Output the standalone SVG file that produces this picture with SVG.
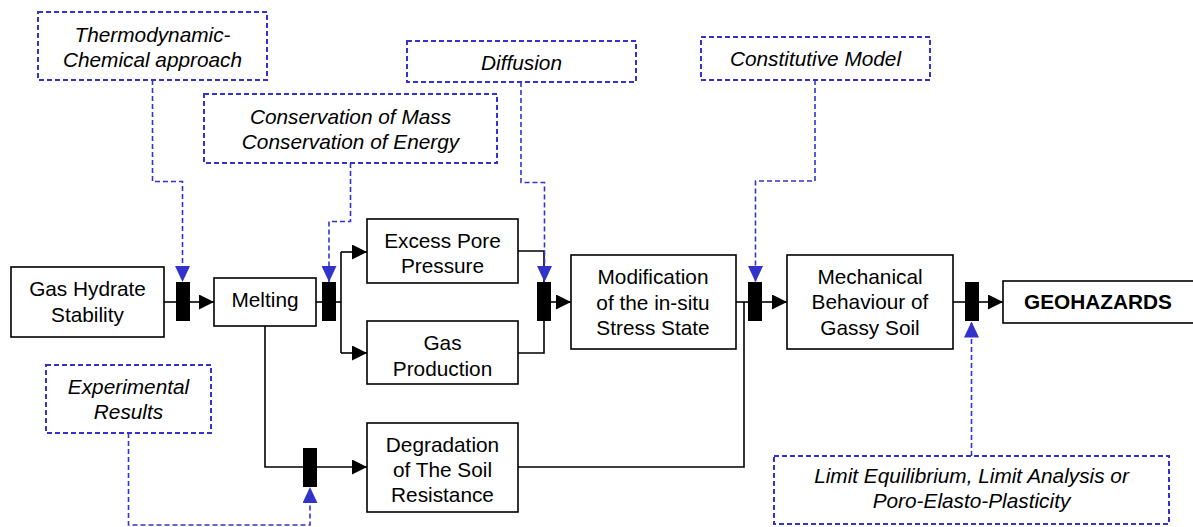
<svg xmlns="http://www.w3.org/2000/svg" width="1193" height="527" viewBox="0 0 1193 527">
<style>
  .box { fill: #fff; stroke: #000; stroke-width: 1.6; }
  .bar { fill: #000; stroke: none; }
  .note { fill: #fff; stroke: #3333cc; stroke-width: 2; stroke-dasharray: 5 3; }
  .t { font-family: "Liberation Sans", Arial, sans-serif; font-size: 20.8px; fill: #000; text-anchor: middle; }
  .ti { font-style: italic; }
  .tb { font-weight: bold; text-anchor: start; }
  .wire { fill: none; stroke: #000; stroke-width: 1.6; }
  .dwire { fill: none; stroke: #3333cc; stroke-width: 1.6; stroke-dasharray: 5 3; }
</style>
<defs>
  <marker id="ab" viewBox="0 0 15 15" refX="15" refY="7.5" markerWidth="15" markerHeight="15" markerUnits="userSpaceOnUse" orient="auto">
    <path d="M0,0 L15,7.5 L0,15 z" fill="#000"/>
  </marker>
  <marker id="au" viewBox="0 0 16 15" refX="16" refY="7.5" markerWidth="16" markerHeight="15" markerUnits="userSpaceOnUse" orient="auto">
    <path d="M0,0 L16,7.5 L0,15 z" fill="#3333cc"/>
  </marker>
</defs>

<g id="connectors">
  <!-- black flow -->
  <path class="wire" d="M164,302 H176"/>
  <path class="wire" d="M190,302 H214" marker-end="url(#ab)"/>
  <path class="wire" d="M316,302 H322"/>
  <path class="wire" d="M336,302 H341"/>
  <path class="wire" d="M341,252 V353"/>
  <path class="wire" d="M341,252 H367" marker-end="url(#ab)"/>
  <path class="wire" d="M341,353 H367" marker-end="url(#ab)"/>
  <path class="wire" d="M518,251 H544 V282"/>
  <path class="wire" d="M518,353 H544 V321"/>
  <path class="wire" d="M551,302 H571" marker-end="url(#ab)"/>
  <path class="wire" d="M736,302 H748"/>
  <path class="wire" d="M744,302 V467 H518"/>
  <path class="wire" d="M762,302 H787" marker-end="url(#ab)"/>
  <path class="wire" d="M953,302 H965"/>
  <path class="wire" d="M979,302 H1003" marker-end="url(#ab)"/>
  <path class="wire" d="M265,326 V467 H303"/>
  <path class="wire" d="M317,467 H367" marker-end="url(#ab)"/>
  <!-- blue dashed -->
  <path class="dwire" d="M152.5,80 V181.5 H182.5 V282" marker-end="url(#au)"/>
  <path class="dwire" d="M350.5,163 V221.5 H329 V282" marker-end="url(#au)"/>
  <path class="dwire" d="M521,82 V182.5 H544.5 V282" marker-end="url(#au)"/>
  <path class="dwire" d="M815,80 V181 H755.5 V282" marker-end="url(#au)"/>
  <path class="dwire" d="M128.5,433 V525 H310 V487" marker-end="url(#au)"/>
  <path class="dwire" d="M971.5,456 V321.5" marker-end="url(#au)"/>
</g>

<g id="bars">
  <rect class="bar" x="176" y="282" width="14" height="39"/>
  <rect class="bar" x="322" y="282" width="14" height="39"/>
  <rect class="bar" x="537" y="282" width="14" height="39"/>
  <rect class="bar" x="748" y="282" width="14" height="39"/>
  <rect class="bar" x="965" y="282" width="14" height="39"/>
  <rect class="bar" x="303" y="448" width="14" height="39"/>
</g>

<g id="gas-hydrate-stability">
  <rect class="box" x="11" y="267" width="153" height="70"/>
  <text class="t" x="87.5" y="296">Gas Hydrate</text>
  <text class="t" x="87.5" y="322">Stability</text>
</g>
<g id="melting">
  <rect class="box" x="214" y="278" width="102" height="48"/>
  <text class="t" x="265" y="307">Melting</text>
</g>
<g id="excess-pore-pressure">
  <rect class="box" x="367" y="219" width="151" height="64"/>
  <text class="t" x="442.5" y="248">Excess Pore</text>
  <text class="t" x="442.5" y="273">Pressure</text>
</g>
<g id="gas-production">
  <rect class="box" x="367" y="321" width="151" height="63"/>
  <text class="t" x="442.5" y="350">Gas</text>
  <text class="t" x="442.5" y="376">Production</text>
</g>
<g id="degradation">
  <rect class="box" x="367" y="423" width="151" height="89"/>
  <text class="t" x="442.5" y="452">Degradation</text>
  <text class="t" x="442.5" y="477">of The Soil</text>
  <text class="t" x="442.5" y="502">Resistance</text>
</g>
<g id="modification">
  <rect class="box" x="571" y="255" width="165" height="94"/>
  <text class="t" x="653" y="284">Modification</text>
  <text class="t" x="653" y="310">of the in-situ</text>
  <text class="t" x="653" y="335">Stress State</text>
</g>
<g id="mechanical-behaviour">
  <rect class="box" x="787" y="255" width="166" height="94"/>
  <text class="t" x="870" y="284">Mechanical</text>
  <text class="t" x="870" y="309">Behaviour of</text>
  <text class="t" x="870" y="335">Gassy Soil</text>
</g>
<g id="geohazards">
  <rect class="box" x="1003" y="281" width="200" height="42"/>
  <text class="t tb" x="1024" y="309">GEOHAZARDS</text>
</g>

<g id="note-thermodynamic">
  <rect class="note" x="38" y="12" width="229" height="68"/>
  <text class="t ti" x="152.5" y="42">Thermodynamic-</text>
  <text class="t ti" x="152.5" y="67">Chemical approach</text>
</g>
<g id="note-conservation">
  <rect class="note" x="204" y="94" width="293" height="69"/>
  <text class="t ti" x="350.5" y="124">Conservation of Mass</text>
  <text class="t ti" x="350.5" y="149">Conservation of Energy</text>
</g>
<g id="note-diffusion">
  <rect class="note" x="407" y="41" width="229" height="41"/>
  <text class="t ti" x="521.5" y="70">Diffusion</text>
</g>
<g id="note-constitutive">
  <rect class="note" x="701" y="37" width="229" height="43"/>
  <text class="t ti" x="815.5" y="66">Constitutive Model</text>
</g>
<g id="note-experimental">
  <rect class="note" x="46" y="365" width="165" height="68"/>
  <text class="t ti" x="128.5" y="394">Experimental</text>
  <text class="t ti" x="128.5" y="419">Results</text>
</g>
<g id="note-limit">
  <rect class="note" x="774" y="456" width="395" height="68"/>
  <text class="t ti" x="971.5" y="483">Limit Equilibrium, Limit Analysis or</text>
  <text class="t ti" x="971.5" y="508">Poro-Elasto-Plasticity</text>
</g>
</svg>
